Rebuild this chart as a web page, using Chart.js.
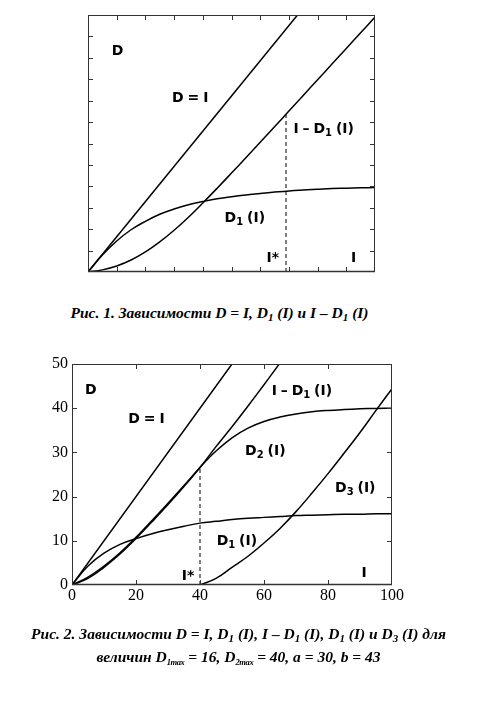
<!DOCTYPE html>
<html>
<head>
<meta charset="utf-8">
<script src="https://cdn.jsdelivr.net/npm/chart.js@4.4.0/dist/chart.umd.min.js"></script>
<style>
  body { margin: 0; background: #fff; width: 477px; height: 701px; position: relative; overflow: hidden; }
  canvas { position: absolute; left: 0; }
  .cap { position: absolute; left: 0; width: 477px; text-align: center; color: #000;
         font: italic bold 15.5px "Liberation Serif", "Times New Roman", serif; line-height: 22px; }
  .cap .s { font-size: 11px; position: relative; top: 3px; }
  .cap .m { font-size: 8.5px; position: relative; top: 3px; letter-spacing: -0.4px; }
</style>
</head>
<body>
<canvas id="fig1" width="477" height="290" style="top:0"></canvas>
<div class="cap" style="top:302px;left:-19px">Рис. 1. Зависимости D = I, D<span class="s">1</span> (I) и I – D<span class="s">1</span> (I)</div>
<canvas id="fig2" width="477" height="290" style="top:340px"></canvas>
<div class="cap" style="top:623px">Рис. 2. Зависимости D = I, D<span class="s">1</span> (I), I – D<span class="s">1</span> (I), D<span class="s">1</span> (I) и D<span class="s">3</span> (I) для<br>величин D<span class="m">1max</span> = 16, D<span class="m">2max</span> = 40, a = 30, b = 43</div>
<script>
// ---- figure 1 data (no numeric axes in the original) ----
const X1 = [0, 5, 10, 15, 20, 25, 30, 35, 40, 45, 50, 55, 60, 65, 70, 75, 80, 85, 90, 95, 100];
const D1_fig1 = [0, 4.8, 8.8, 12, 14.4, 16.4, 17.9, 19.1, 20, 20.8, 21.4, 21.9, 22.3, 22.7, 23, 23.3, 23.5, 23.7, 23.8, 23.9, 24];
const IminusD1_fig1 = [0, 0.6, 1.7, 3.4, 5.7, 8.55, 11.85, 15.55, 19.6, 23.8, 28.1, 32.45, 36.85, 41.25, 45.7, 50.15, 54.6, 59.05, 63.5, 67.95, 72.4];
const LINE_X = [0, 100];
const LINE_Y = [0, 100];
const ISTAR1_X = [69, 69];
const ISTAR1_Y = [0, 45.2];
const Y1_MAX = 73;

// ---- figure 2 data ----
const X2 = [0, 5, 10, 15, 20, 25, 30, 35, 40, 45, 50, 55, 60, 65, 70, 75, 80, 85, 90, 95, 100];
const D1_fig2 = [0, 4.3, 7.2, 9.2, 10.5, 11.6, 12.5, 13.3, 14, 14.4, 14.8, 15.1, 15.3, 15.5, 15.7, 15.8, 15.9, 16, 16, 16.1, 16.1];
const D2_fig2 = [0, 1.8, 4.3, 7.3, 10.8, 14.6, 18.5, 22.5, 26.6, 30.3, 33.3, 35.5, 37, 38, 38.7, 39.2, 39.5, 39.7, 39.85, 39.95, 40];
const X2_IMD1 = [0, 5, 10, 15, 20, 25, 30, 35, 40, 45, 50, 55, 60, 65, 70];
const IminusD1_fig2 = [0, 1.5, 4, 7, 10.5, 14.3, 18.2, 22.3, 26.6, 31.3, 35.8, 40.5, 45.3, 50.2, 54.9];
const X2_D3 = [40, 45, 50, 55, 60, 65, 70, 75, 80, 85, 90, 95, 100];
const D3_fig2 = [0, 1.5, 4, 6.5, 9.5, 12.8, 16.6, 20.8, 25.2, 29.8, 34.5, 39.5, 44.4];
const ISTAR2_X = [40, 40];
const ISTAR2_Y = [0, 26.6];
const X2_TICK = 20;
const Y2_TICK = 10;

function pts(xs, ys) {
  return xs.map((x, i) => ({ x: x, y: ys[i] }));
}

function curve(xs, ys) {
  return {
    data: pts(xs, ys),
    borderColor: "#000",
    borderWidth: 1.5,
    pointRadius: 0,
    tension: 0.4,
    fill: false,
  };
}

function dashed(xs, ys) {
  return {
    data: pts(xs, ys),
    borderColor: "#000",
    borderWidth: 1,
    borderDash: [4, 3],
    pointRadius: 0,
    fill: false,
  };
}

// label text: "_" makes the next char a subscript
function drawLabel(ctx, x, y, text) {
  let cx = x;
  for (let i = 0; i < text.length; i++) {
    let ch = text[i];
    let sub = false;
    if (ch === "_") { sub = true; ch = text[++i]; }
    ctx.font = sub ? 'bold 10px "DejaVu Sans"' : 'bold 14px "DejaVu Sans"';
    ctx.fillText(ch, cx, y + (sub ? 3 : 0));
    cx += ctx.measureText(ch).width - (ch === " " ? 1 : 0);
  }
}

// frame, inward ticks on all four sides, and text labels
const framePlugin = {
  id: "frame",
  afterDraw(chart, args, opts) {
    const { ctx, chartArea: a, scales } = chart;
    ctx.save();
    ctx.strokeStyle = "#333";
    ctx.lineWidth = 1;
    ctx.strokeRect(a.left + 0.5, a.top + 0.5, a.right - a.left - 1, a.bottom - a.top - 1);
    ctx.lineWidth = 1.5;
    ctx.beginPath();
    ctx.moveTo(a.left, a.bottom - 0.5);
    ctx.lineTo(a.right, a.bottom - 0.5);
    ctx.stroke();
    ctx.lineWidth = 1;
    const t = 5;
    ctx.beginPath();
    for (let i = 1; i < opts.xDiv; i++) {
      const px = Math.round(a.left + (a.right - a.left) * i / opts.xDiv) + 0.5;
      ctx.moveTo(px, a.bottom); ctx.lineTo(px, a.bottom - t);
      ctx.moveTo(px, a.top); ctx.lineTo(px, a.top + t);
    }
    for (let i = 1; i < opts.yDiv; i++) {
      const py = Math.round(a.top + (a.bottom - a.top) * i / opts.yDiv) + 0.5;
      ctx.moveTo(a.left, py); ctx.lineTo(a.left + t, py);
      ctx.moveTo(a.right, py); ctx.lineTo(a.right - t, py);
    }
    ctx.stroke();
    ctx.fillStyle = "#000";
    ctx.textBaseline = "alphabetic";
    ctx.textAlign = "left";
    for (const l of opts.labels) {
      drawLabel(ctx, scales.x.getPixelForValue(l[0]), scales.y.getPixelForValue(l[1]), l[2]);
    }
    ctx.restore();
  },
};

// Figure 1
new Chart(document.getElementById("fig1"), {
  type: "line",
  data: {
    datasets: [
      curve(LINE_X, LINE_Y),
      curve(X1, IminusD1_fig1),
      curve(X1, D1_fig1),
      dashed(ISTAR1_X, ISTAR1_Y),
    ],
  },
  options: {
    responsive: false,
    animation: false,
    devicePixelRatio: 1,
    layout: { padding: { left: 88, right: 102, top: 15, bottom: 18 } },
    scales: {
      x: { type: "linear", min: 0, max: 100, display: false },
      y: { type: "linear", min: 0, max: Y1_MAX, display: false },
    },
    plugins: {
      legend: { display: false },
      tooltip: { enabled: false },
      frame: {
        xDiv: 10,
        yDiv: 12,
        labels: [
          [8.3, 61.6, "D"],
          [29.3, 48.4, "D = I"],
          [71.6, 39.4, "I – D_1 (I)"],
          [47.6, 14.3, "D_1 (I)"],
          [62.2, 2.9, "I*"],
          [91.6, 2.9, "I"],
        ],
      },
    },
  },
  plugins: [framePlugin],
});

// Figure 2
const tickFont = { family: '"Liberation Serif", "Times New Roman", serif', size: 16 };
new Chart(document.getElementById("fig2"), {
  type: "line",
  data: {
    datasets: [
      curve(LINE_X, LINE_Y),
      curve(X2_IMD1, IminusD1_fig2),
      curve(X2, D2_fig2),
      curve(X2, D1_fig2),
      curve(X2_D3, D3_fig2),
      dashed(ISTAR2_X, ISTAR2_Y),
    ],
  },
  options: {
    responsive: false,
    animation: false,
    devicePixelRatio: 1,
    layout: { padding: { left: 42, right: 85, top: 24, bottom: 25 } },
    scales: {
      x: {
        type: "linear", min: 0, max: 100,
        ticks: { stepSize: X2_TICK, font: tickFont, color: "#000", padding: 1, maxRotation: 0 },
        grid: { display: false, drawTicks: false },
        border: { display: false },
        afterFit(s) { s.height = 20; },
      },
      y: {
        type: "linear", min: 0, max: 50,
        ticks: { stepSize: Y2_TICK, font: tickFont, color: "#000", padding: 4 },
        grid: { display: false, drawTicks: false },
        border: { display: false },
        afterFit(s) { s.width = 30; },
      },
    },
    plugins: {
      legend: { display: false },
      tooltip: { enabled: false },
      frame: {
        xDiv: 5,
        yDiv: 5,
        labels: [
          [4.1, 43.1, "D"],
          [17.6, 36.6, "D = I"],
          [62.4, 43, "I – D_1 (I)"],
          [54.1, 29.4, "D_2 (I)"],
          [82.2, 21, "D_3 (I)"],
          [45.2, 9, "D_1 (I)"],
          [34.3, 1.1, "I*"],
          [90.5, 1.9, "I"],
        ],
      },
    },
  },
  plugins: [framePlugin],
});
</script>
</body>
</html>
